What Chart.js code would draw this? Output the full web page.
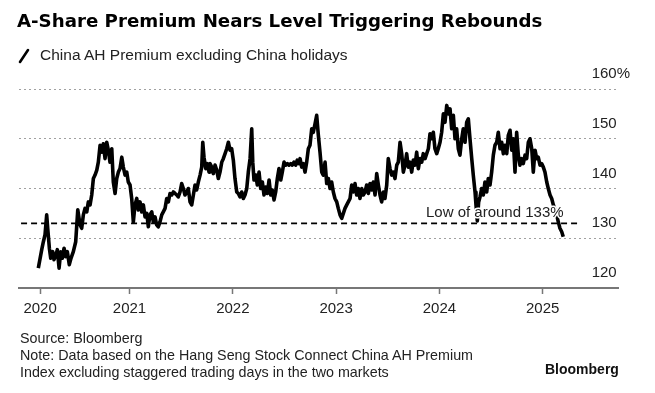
<!DOCTYPE html>
<html>
<head>
<meta charset="utf-8">
<title>A-Share Premium Nears Level Triggering Rebounds</title>
<script src="https://cdn.jsdelivr.net/npm/chart.js@4.4.1/dist/chart.umd.min.js"></script>
<style>
  body { margin: 0; background: #fff; font-family: "Liberation Sans", Arial, sans-serif; }
  #page { position: relative; width: 655px; height: 393px; overflow: hidden; }
  #chart { position: absolute; left: 0; top: 0; }
  .title { position: absolute; left: 17px; top: 10px; font-family: "DejaVu Sans", sans-serif; font-size: 18.2px; font-weight: bold; color: #000; white-space: nowrap; }
  .legend { position: absolute; left: 18px; top: 46px; font-size: 15.5px; color: #222; white-space: nowrap; }
  .legend svg { position: absolute; left: 0; top: 2px; }
  .legend span { position: absolute; left: 22px; top: 0; }
  .notes { position: absolute; left: 20px; top: 330px; font-size: 14.3px; line-height: 17px; color: #222; white-space: nowrap; }
  .brand { position: absolute; left: 545px; top: 361px; font-size: 14px; font-weight: bold; color: #111; }
</style>
</head>
<body>
<div id="page">
  <canvas id="chart" width="655" height="393"></canvas>
  <div class="title">A-Share Premium Nears Level Triggering Rebounds</div>
  <div class="legend">
    <svg width="12" height="16"><line x1="2" y1="14" x2="10" y2="2" stroke="#000" stroke-width="2.6" stroke-linecap="round"/></svg>
    <span>China AH Premium excluding China holidays</span>
  </div>
  <div class="notes">Source: Bloomberg<br>Note: Data based on the Hang Seng Stock Connect China AH Premium<br>Index excluding staggered trading days in the two markets</div>
  <div class="brand">Bloomberg</div>
</div>
<script>
// dates as decimal years, premium in %
const dates = [
  2020.117, 2020.150, 2020.166, 2020.182, 2020.198, 2020.208, 2020.224, 2020.237, 2020.257, 2020.269,
  2020.289, 2020.301, 2020.318, 2020.334, 2020.350, 2020.366, 2020.382, 2020.398, 2020.417, 2020.434,
  2020.456, 2020.479, 2020.499, 2020.521, 2020.537, 2020.553, 2020.569, 2020.586, 2020.601, 2020.618,
  2020.634, 2020.650, 2020.666, 2020.683, 2020.698, 2020.715, 2020.731, 2020.746, 2020.763, 2020.779,
  2020.795, 2020.811, 2020.828, 2020.843, 2020.860, 2020.876, 2020.892,
  2020.908, 2020.925, 2020.940, 2020.957, 2020.973, 2020.988, 2021.005, 2021.021, 2021.037, 2021.053,
  2021.070, 2021.085, 2021.102, 2021.118, 2021.134, 2021.150, 2021.167, 2021.182, 2021.198, 2021.215,
  2021.230, 2021.247, 2021.263, 2021.279, 2021.295, 2021.312, 2021.327, 2021.344, 2021.360, 2021.376,
  2021.392, 2021.409, 2021.424, 2021.441, 2021.457, 2021.472, 2021.489, 2021.505, 2021.521, 2021.537,
  2021.554, 2021.569, 2021.586, 2021.602, 2021.618, 2021.634, 2021.650, 2021.666, 2021.683, 2021.699,
  2021.709, 2021.721, 2021.738, 2021.753, 2021.770,
  2021.779, 2021.796, 2021.811, 2021.828, 2021.844, 2021.860, 2021.876, 2021.893, 2021.908, 2021.925,
  2021.941, 2021.957, 2021.973, 2021.989, 2022.005, 2022.021, 2022.038, 2022.053, 2022.070, 2022.086,
  2022.102, 2022.118, 2022.135, 2022.150, 2022.167, 2022.183, 2022.193, 2022.205, 2022.222, 2022.237,
  2022.254, 2022.270, 2022.286, 2022.302, 2022.319, 2022.334, 2022.351, 2022.367, 2022.382, 2022.399,
  2022.415, 2022.431, 2022.447, 2022.464, 2022.479, 2022.496, 2022.512, 2022.528, 2022.544, 2022.561,
  2022.576, 2022.592, 2022.609, 2022.624, 2022.641,
  2022.651, 2022.667, 2022.683, 2022.699, 2022.715, 2022.731, 2022.747, 2022.764, 2022.779, 2022.796,
  2022.812, 2022.828, 2022.844, 2022.861, 2022.876, 2022.893, 2022.909, 2022.925, 2022.941, 2022.957,
  2022.973, 2022.989, 2023.006, 2023.021, 2023.038, 2023.054, 2023.070, 2023.086, 2023.103, 2023.118,
  2023.135, 2023.151, 2023.166, 2023.183, 2023.199, 2023.215, 2023.231, 2023.248, 2023.263, 2023.280,
  2023.296, 2023.312, 2023.328, 2023.345, 2023.360, 2023.377, 2023.393, 2023.409, 2023.425, 2023.441,
  2023.457, 2023.473, 2023.490, 2023.505,
  2023.522, 2023.538, 2023.554, 2023.570, 2023.587, 2023.602, 2023.619, 2023.635, 2023.651, 2023.667,
  2023.683, 2023.699, 2023.715, 2023.732, 2023.747, 2023.764, 2023.780, 2023.796, 2023.812, 2023.829,
  2023.844, 2023.861, 2023.877, 2023.893, 2023.909, 2023.925, 2023.941, 2023.957, 2023.974, 2023.989,
  2024.006, 2024.022, 2024.038, 2024.054, 2024.071, 2024.086, 2024.103, 2024.119, 2024.135, 2024.151,
  2024.167, 2024.183, 2024.199, 2024.216, 2024.231, 2024.248, 2024.264, 2024.280, 2024.296, 2024.313,
  2024.328, 2024.345, 2024.354, 2024.367, 2024.380, 2024.393,
  2024.409, 2024.425, 2024.441, 2024.458, 2024.473, 2024.490, 2024.506, 2024.522, 2024.538, 2024.555,
  2024.570, 2024.587, 2024.603, 2024.619, 2024.635, 2024.652, 2024.667, 2024.684, 2024.700, 2024.715,
  2024.732, 2024.748, 2024.764, 2024.780, 2024.797, 2024.812, 2024.829, 2024.845, 2024.861, 2024.877,
  2024.894, 2024.909, 2024.926, 2024.942, 2024.957, 2024.974, 2024.990, 2025.006, 2025.022, 2025.039,
  2025.054, 2025.071, 2025.087, 2025.103, 2025.119, 2025.135, 2025.151, 2025.167, 2025.184, 2025.199
];

const premium = [
  124.0, 127.7, 129.3, 130.7, 134.7, 132.0, 128.0, 126.0, 127.3, 125.7,
  126.7, 127.7, 124.0, 127.3, 126.0, 128.0, 126.3, 127.3, 124.7, 126.0,
  127.3, 129.3, 135.7, 132.7, 132.0, 134.7, 136.0, 135.3, 137.3, 136.7,
  138.7, 142.0, 142.7, 143.7, 145.3, 148.7, 147.3, 149.0, 146.0, 149.3,
  147.7, 145.3, 148.0, 141.3, 139.0, 142.0, 143.3,
  144.0, 146.3, 144.3, 142.7, 143.3, 141.3, 140.7, 138.0, 133.3, 136.7,
  138.0, 135.7, 137.3, 135.3, 136.7, 134.3, 135.0, 132.3, 134.7, 135.3,
  133.3, 134.3, 132.7, 132.3, 133.3, 134.7, 135.3, 136.0, 138.0, 137.3,
  139.0, 138.7, 139.3, 139.0, 138.7, 138.3, 139.3, 141.0, 140.0, 138.7,
  139.3, 140.0, 137.3, 136.7, 138.7, 140.7, 139.7, 141.3, 142.7, 144.3,
  149.3, 146.3, 144.0, 145.0, 143.3,
  145.0, 144.3, 143.0, 144.7, 143.7, 142.0, 143.3, 145.3, 146.0, 147.0,
  148.0, 149.3, 147.7, 148.0, 145.7, 142.0, 139.3, 139.0, 138.3, 139.3,
  138.0, 138.7, 140.0, 143.3, 146.0, 152.0, 145.3, 141.7, 142.7, 140.7,
  143.3, 140.0, 141.3, 138.7, 140.3, 139.0, 141.7, 138.7, 139.7, 137.7,
  139.3, 142.0, 144.0, 141.7, 143.3, 145.3, 144.7, 145.0, 144.7, 145.0,
  144.7, 145.3, 144.7, 145.7, 145.0,
  146.0, 144.3, 145.0, 143.3, 145.3, 148.0, 148.7, 152.0, 151.3, 153.0,
  154.7, 150.7, 147.3, 143.3, 142.7, 145.3, 141.0, 142.0, 140.0, 141.3,
  139.3, 138.0, 137.3, 136.0, 134.7, 134.0, 135.0, 136.0, 136.7, 137.3,
  138.0, 140.7, 139.3, 141.0, 138.7, 140.0, 138.0, 140.0, 138.7, 139.3,
  140.7, 139.0, 141.0, 139.7, 141.3, 138.7, 143.0, 140.7, 138.7, 137.3,
  139.3, 138.0, 140.7, 146.0,
  144.0, 142.7, 143.3, 142.0, 144.7, 145.3, 149.3, 147.0, 143.3, 144.7,
  147.0, 144.3, 145.3, 143.3, 145.7, 144.7, 147.3, 144.0, 146.0, 145.3,
  147.0, 146.0, 147.0, 148.0, 151.0, 150.0, 151.3, 148.0, 147.0, 148.0,
  149.3, 151.3, 155.0, 153.3, 156.7, 155.0, 156.0, 152.0, 154.7, 150.0,
  152.0, 148.0, 146.7, 150.0, 152.0, 149.3, 153.3, 154.0, 150.0, 146.0,
  142.7, 139.3, 136.7, 133.5, 137.3, 138.3,
  140.0, 138.7, 141.3, 139.3, 142.0, 140.7, 143.3, 146.7, 148.7, 149.3,
  151.3, 148.0, 149.3, 147.0, 148.7, 147.0, 150.7, 151.7, 147.7, 150.0,
  143.3, 151.3, 146.7, 144.7, 146.0, 145.0, 146.7, 146.0, 149.3, 150.0,
  148.0, 143.3, 147.7, 146.0, 146.3, 144.7, 145.0, 144.3, 143.3, 141.3,
  140.0, 138.7, 138.0, 136.7, 135.7, 134.7, 133.3, 132.0, 131.3, 130.3
];

// x axis labels (first one sits at the start of the data)
const yearTicks = [2020.134, 2021, 2022, 2023, 2024, 2025];
const yearLabels = ["2020", "2021", "2022", "2023", "2024", "2025"];
const yTicks = [120, 130, 140, 150, 160];

// dashed "low" reference line
const lowLevel = 133;
const lowLineSpan = [2019.95, 2025.36];
const lowText = "Low of around 133%";
const lowTextYear = 2023.87;

const FONT = '"Liberation Sans", Arial, sans-serif';

const lowLabel = {
  id: "lowLabel",
  afterDatasetsDraw(chart) {
    const { ctx, scales } = chart;
    const px = scales.x.getPixelForValue(lowTextYear);
    const py = scales.y.getPixelForValue(lowLevel) - 10;
    ctx.save();
    ctx.font = "15px " + FONT;
    ctx.textBaseline = "middle";
    ctx.lineWidth = 3;
    ctx.strokeStyle = "#fff";
    ctx.strokeText(lowText, px, py);
    ctx.fillStyle = "#222";
    ctx.fillText(lowText, px, py);
    ctx.restore();
  },
};

new Chart(document.getElementById("chart"), {
  type: "line",
  data: {
    datasets: [
      {
        label: "China AH Premium excluding China holidays",
        data: dates.map((d, i) => ({ x: d, y: premium[i] })),
        borderColor: "#000",
        borderWidth: 3.6,
        pointRadius: 0,
        tension: 0,
        borderJoinStyle: "round",
      },
      {
        label: "Low",
        data: lowLineSpan.map((d) => ({ x: d, y: lowLevel })),
        borderColor: "#000",
        borderWidth: 1.6,
        borderDash: [6, 4],
        pointRadius: 0,
      },
    ],
  },
  options: {
    responsive: false,
    animation: false,
    layout: { padding: { top: 89, left: 19, right: 37, bottom: 75 } },
    plugins: { legend: { display: false }, tooltip: { enabled: false } },
    scales: {
      x: {
        type: "linear",
        min: 2019.93,
        max: 2025.729,
        afterBuildTicks: (s) => { s.ticks = yearTicks.map((v) => ({ value: v })); },
        afterFit: (s) => { s.height = 30; },
        ticks: {
          autoSkip: false,
          maxRotation: 0,
          padding: 6,
          color: "#222",
          font: { size: 15, family: FONT },
          callback: (v, i) => yearLabels[i],
        },
        grid: { drawOnChartArea: false, drawTicks: true, tickLength: 6, tickColor: "#777", tickWidth: 1.5 },
        border: { display: true, color: "#777", width: 2 },
      },
      y: {
        position: "right",
        min: 120,
        max: 160,
        afterBuildTicks: (s) => { s.ticks = yTicks.map((v) => ({ value: v })); },
        afterFit: (s) => { s.width = 0; },
        ticks: {
          mirror: true,
          crossAlign: "far",
          padding: 12,
          labelOffset: -15,
          color: "#222",
          font: { size: 15, family: FONT },
          callback: (v) => (v === 160 ? v + "%" : v),
        },
        grid: {
          drawTicks: false,
          lineWidth: 1,
          color: (c) => (c.tick && c.tick.value === 120 ? "rgba(0,0,0,0)" : "#a0a0a0"),
        },
        border: { display: false, dash: [2, 3] },
      },
    },
  },
  plugins: [lowLabel],
});
</script>
</body>
</html>
